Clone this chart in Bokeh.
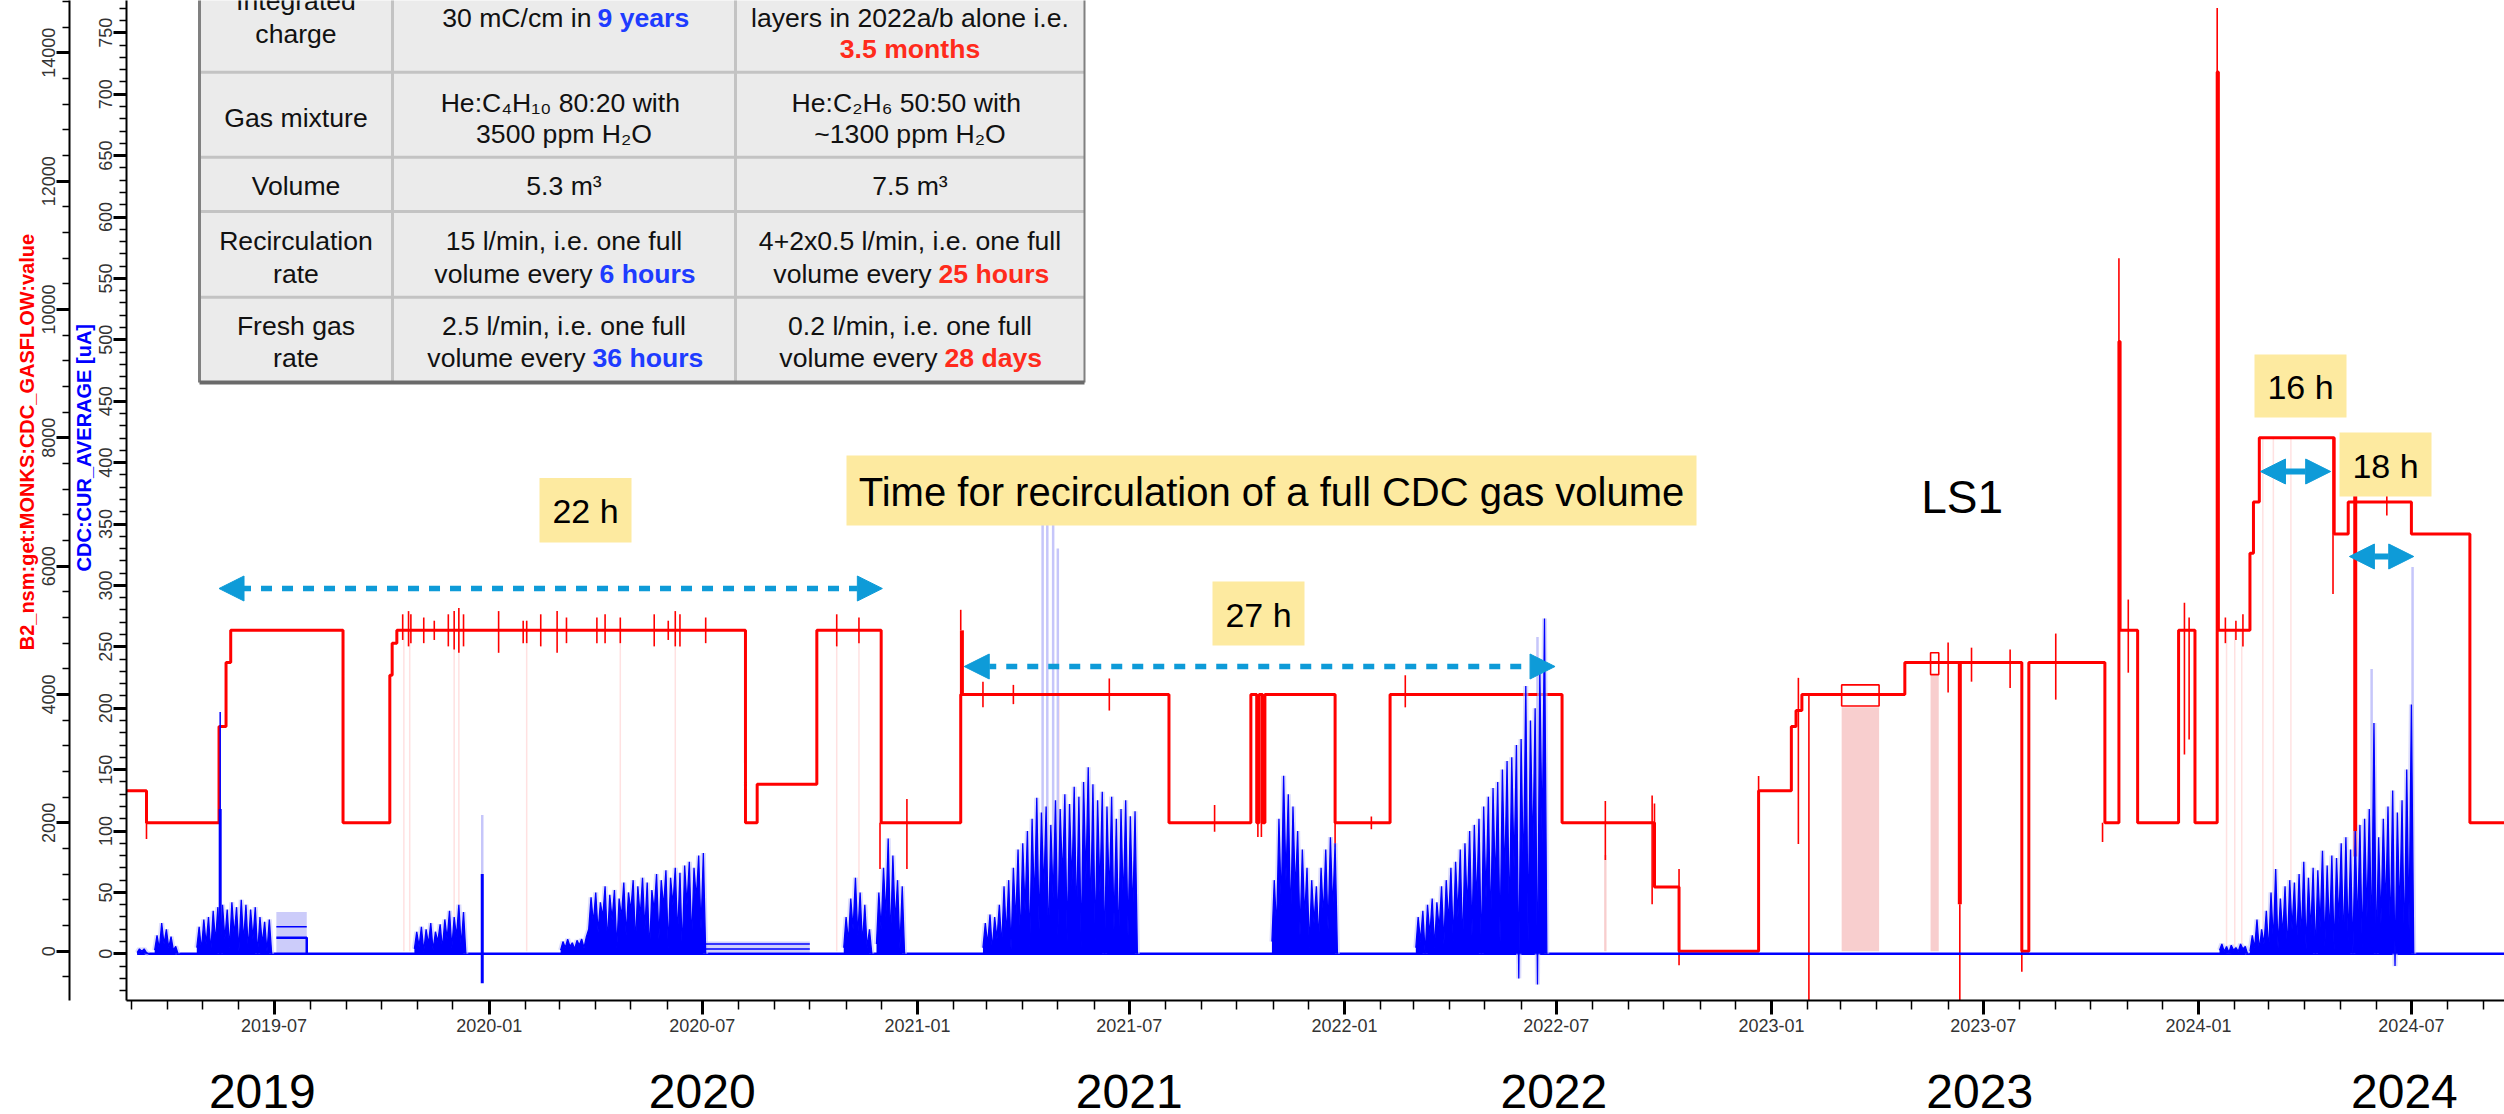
from datetime import datetime, timedelta
from bokeh.plotting import figure
from bokeh.layouts import column
from bokeh.models import (Range1d, LinearAxis, FixedTicker, SingleIntervalTicker,
                          DatetimeTickFormatter, Arrow, NormalHead)
from bokeh.core.properties import value
from bokeh.embed import file_html
from bokeh.resources import INLINE

EPOCH = datetime(1970, 1, 1)


def D(s):
    return datetime.strptime(s, "%Y-%m-%d")


def ms(s):
    return (D(s) - EPOCH).total_seconds() * 1000.0


# ---------------------------------------------------------------- data
# Gas flow (red, outer axis), step changes
red_dates = ["2019-02-24", "2019-03-14", "2019-05-15", "2019-05-21", "2019-05-25", "2019-08-29",
             "2019-10-08", "2019-10-10", "2019-10-14", "2020-08-07", "2020-08-17", "2020-10-07",
             "2020-12-01", "2021-02-07", "2021-08-04", "2021-10-13", "2021-10-18", "2021-10-20",
             "2021-10-23", "2021-10-25", "2021-12-24", "2022-02-09", "2022-07-06", "2022-09-23",
             "2022-10-14", "2022-12-21", "2023-01-18", "2023-01-22", "2023-01-27", "2023-04-25",
             "2023-08-03", "2023-08-09", "2023-10-13", "2023-10-25", "2023-10-26", "2023-11-10",
             "2023-12-15", "2023-12-29", "2024-01-17", "2024-01-18", "2024-02-14", "2024-02-17",
             "2024-02-22", "2024-04-26", "2024-05-08", "2024-07-01", "2024-08-20", "2024-09-19"]
red_vals = [2500, 2000, 3500, 4500, 5000, 2000, 4300, 4800, 5000, 2000, 2600, 5000,
            2000, 4000, 2000, 4000, 2000, 4000, 2000, 4000, 2000, 4000, 2000, 1000,
            0, 2500, 3500, 3750, 4000, 4500, 0, 4500, 2000, 9500, 5000, 2000,
            5000, 2000, 13700, 5000, 6200, 7000, 8000, 6500, 7000, 6500, 2000, 2000]

# thin red glitches (date, low, high)
red_spike_dates = ["2019-03-14", "2019-10-19", "2019-10-24", "2019-10-26", "2019-11-06", "2019-11-15",
                   "2019-11-27", "2019-12-02", "2019-12-06", "2019-12-10", "2020-01-09", "2020-01-30",
                   "2020-02-02", "2020-02-14", "2020-02-28", "2020-03-07", "2020-04-02", "2020-04-09",
                   "2020-04-22", "2020-05-21", "2020-06-02", "2020-06-08", "2020-06-12", "2020-07-04",
                   "2020-10-24", "2020-11-12", "2020-11-30", "2020-12-23", "2021-02-07", "2021-02-26",
                   "2021-03-24", "2021-06-14", "2021-09-12", "2021-10-19", "2021-10-22", "2021-12-24",
                   "2022-01-24", "2022-02-22", "2022-08-12", "2022-09-21", "2022-09-23", "2022-10-14",
                   "2022-12-21", "2023-01-24", "2023-02-02", "2023-06-01", "2023-06-11", "2023-06-21",
                   "2023-07-24", "2023-08-03", "2023-09-01", "2023-10-11", "2023-10-25", "2023-11-02",
                   "2023-12-20", "2023-12-24", "2024-01-17", "2024-01-24", "2024-02-02", "2024-02-08",
                   "2024-04-25", "2024-06-10"]
red_spike_lo = [1750, 4850, 4750, 4800, 4800, 4850, 4750, 4700, 4650, 4750, 4650, 4800,
                4800, 4750, 4650, 4800, 4800, 4800, 4800, 4750, 4850, 4750, 4750, 4800,
                4750, 4800, 1280, 1280, 5000, 3800, 3850, 3750, 1860, 1780, 1780, 1620,
                1900, 3800, 1420, 730, 1150, -220, 2500, 1670, -768, 4030, -768, 4200,
                4100, -320, 3920, 1700, 9500, 4340, 3065, 3300, 13700, 4800, 4850, 4750,
                5565, 6790]
red_spike_hi = [2000, 5250, 5300, 5250, 5200, 5150, 5250, 5300, 5350, 5250, 5300, 5150,
                5150, 5250, 5300, 5200, 5200, 5250, 5200, 5250, 5150, 5300, 5250, 5200,
                5250, 5200, 2000, 2370, 5320, 4200, 4150, 4250, 2280, 4000, 4000, 2000,
                2100, 4300, 2340, 2425, 2300, 1280, 2730, 4260, 4000, 4810, 730, 4730,
                4700, 4500, 4950, 2000, 10800, 5480, 5430, 5200, 14700, 5200, 5150, 5250,
                8000, 7150]
# thick red excursions
red_bar_dates = ["2021-02-08", "2023-06-11", "2024-05-14"]
red_bar_lo = [4000, 730, 1476]
red_bar_hi = [5000, 4500, 7350]
# very faint red drop lines (sampling artefacts)
red_faint_dates = ["2019-10-20", "2019-10-25", "2019-12-02", "2019-12-06", "2020-02-02", "2020-04-22",
                   "2020-06-08", "2020-10-24", "2020-11-12", "2021-05-02", "2024-01-25", "2024-02-01",
                   "2024-02-07", "2024-02-25", "2024-03-05", "2024-03-20"]
red_faint_hi = [5000, 5000, 5000, 5000, 5000, 5000, 5000, 5000, 5000, 4000, 5000, 5000,
                5000, 8000, 8000, 8000]

# light red shaded intervals and outlined boxes (2023)
pink_start = ["2023-03-02", "2023-05-17", "2022-08-11"]
pink_end = ["2023-04-03", "2023-05-24", "2022-08-13"]
pink_top = [3800, 4300, 1500]
box_start = ["2023-03-02", "2023-05-17"]
box_end = ["2023-04-03", "2023-05-24"]
box_lo = [3820, 4310]
box_hi = [4150, 4650]

# CDC current (blue, inner axis): samples every 2 days in beam periods
SAMPLE_DAYS = 2
blue_p1_start, blue_p1 = "2019-03-06", [1, 4, 2, 4, 1, 0]
blue_p2_start, blue_p2 = "2019-03-21", [3, 15, 4, 25, 8, 20, 5, 14, 3, 6, 0]
blue_p3_start, blue_p3 = "2019-04-26", [5, 22, 3, 28, 8, 30, 2, 35, 10, 38, 0, 40, 12, 36, 5, 42, 15,
                                        38, 2, 44, 10, 40, 4, 36, 12, 38, 0, 30, 8, 26, 2, 28, 0]
blue_p4_start, blue_p4 = "2019-10-29", [4, 18, 6, 22, 2, 20, 8, 25, 3, 18, 10, 24, 4, 28, 12, 35, 5,
                                        30, 14, 40, 6, 34, 0]
blue_p5_start, blue_p5 = "2020-03-02", [3, 10, 5, 12, 6, 9, 4, 11, 7, 12, 5, 14,
                                        20, 46, 25, 50, 18, 42, 30, 55, 10, 48, 28, 52, 5, 45, 30,
                                        58, 15, 50, 35, 60, 8, 55, 30, 62, 20, 58, 2, 52, 35, 65,
                                        12, 60, 38, 68, 5, 62, 40, 70, 15, 66, 2, 72, 40, 75, 10,
                                        70, 45, 80, 20, 82, 0]
blue_p6_start, blue_p6 = "2020-10-30", [5, 30, 10, 45, 20, 62, 15, 50, 8, 40, 5, 20, 0]
blue_p7_start, blue_p7 = "2020-11-27", [8, 50, 20, 70, 30, 94, 10, 80, 25, 60, 5, 55, 0]
blue_p8_start, blue_p8 = "2021-02-26", [5, 25, 8, 32, 3, 30, 12, 40, 6, 55, 15, 60, 4, 70, 25, 85,
                                        10, 90, 35, 100, 5, 110, 40, 127, 20, 115, 50, 120, 8, 105,
                                        45, 125, 15, 118, 60, 130, 10, 122, 55, 136, 25, 128, 5,
                                        140, 60, 152, 30, 138, 10, 125, 50, 132, 0, 120, 45, 128,
                                        20, 110, 5, 118, 40, 125, 15, 112, 30, 116, 0]
blue_p9_start, blue_p9 = "2021-10-31", [10, 60, 20, 110, 40, 145, 60, 130, 25, 120, 50, 100, 15, 85,
                                        30, 70, 5, 60, 25, 55, 10, 70, 30, 85, 20, 95, 35, 90, 0]
blue_p10_start, blue_p10 = "2022-03-03", [5, 30, 10, 35, 0, 40, 15, 45, 5, 42, 20, 55, 8, 60, 25,
                                          70, 10, 75, 30, 85, 5, 90, 35, 100, 15, 105, 40, 110, 0,
                                          120, 45, 128, 20, 135, 55, 140, 10, 150, 60, 157, 25,
                                          160, 70, 170, -20, 175, 60, 218, 10, 190, 80, 200, -25,
                                          230, 90, 273, 0]
blue_p11a_start, blue_p11a = "2024-01-19", [3, 8, 2, 6, 1, 7, 3, 5, 2, 8, 4, 6, 0]
blue_p11_start, blue_p11 = "2024-02-14", [2, 15, 5, 28, 3, 20, 8, 35, 2, 50, 10, 69, 5, 45, 15, 55,
                                          3, 60, 20, 58, 8, 65, 12, 75, 4, 62, 18, 70, 0, 68, 22,
                                          84, 6, 72, 15, 80, 3, 78, 25, 90, 8, 95, 10, 85, 0, 100,
                                          20, 105, 5, 110, 30, 118, 10, 188, 0, 95, 25, 110, 35,
                                          120, 15, 133, -10, 115, 30, 125, 5, 150, 20, 203, 0]
blue_periods = [(blue_p1_start, blue_p1), (blue_p2_start, blue_p2), (blue_p3_start, blue_p3),
                (blue_p4_start, blue_p4), (blue_p5_start, blue_p5), (blue_p6_start, blue_p6),
                (blue_p7_start, blue_p7), (blue_p8_start, blue_p8), (blue_p9_start, blue_p9),
                (blue_p10_start, blue_p10), (blue_p11a_start, blue_p11a), (blue_p11_start, blue_p11)]
blue_base_range = ["2019-03-06", "2024-09-19"]
blue_spike_dates = ["2019-05-16", "2019-12-26"]
blue_spike_lo = [0, -24]
blue_spike_hi = [118, 65]
blue_thin_dates = ["2019-05-16"]
blue_thin_hi = [197]
lav_spike_dates = ["2019-12-26", "2021-04-18", "2021-04-22", "2021-04-27", "2021-05-01",
                   "2022-06-15", "2024-05-28", "2024-07-02"]
lav_spike_hi = [113, 385, 380, 360, 330, 258, 232, 315]
blue_flat_range = ["2020-07-04", "2020-10-01"]
blue_flat_levels = [8, 4]
lav_box_range = ["2019-07-03", "2019-07-29"]
lav_box_top = 34
lav_box_levels = [22, 13]

# axis ticks / labels
major_tick_dates = ["2019-07-01", "2020-01-01", "2020-07-01", "2021-01-01", "2021-07-01",
                    "2022-01-01", "2022-07-01", "2023-01-01", "2023-07-01", "2024-01-01",
                    "2024-07-01"]
year_labels = ["2019", "2020", "2021", "2022", "2023", "2024"]
year_label_dates = ["2019-06-21", "2020-07-01", "2021-07-01", "2022-06-29", "2023-06-28", "2024-06-25"]

# ---------------------------------------------------------------- figure
FONT = "Liberation Sans"
X_START = datetime(2019, 2, 24, 22, 0)
X_END = datetime(2024, 9, 18, 14, 0)
FR_L, FR_R, FR_T, FR_B = 126, 2504, 0, 1000
MAIN_H = 1040
TOTAL_H = 1114

p = figure(width=2504, height=MAIN_H, output_backend="svg", toolbar_location=None, tools="",
           x_axis_type="datetime", x_range=Range1d(X_START, X_END),
           y_range=Range1d(-38.0, 776.3),
           min_border_left=FR_L, min_border_right=0, min_border_top=0,
           min_border_bottom=MAIN_H - FR_B)
p.outline_line_color = None
p.grid.visible = False
p.background_fill_color = "white"
p.border_fill_color = "white"
p.extra_y_ranges = {"outer": Range1d(-768.3, 14815.0), "py": Range1d(FR_B, FR_T)}
p.extra_x_ranges = {"px": Range1d(FR_L, FR_R)}

NB = "\u00a0"
# inner (blue) axis
ya = p.yaxis[0]
ya.ticker = SingleIntervalTicker(interval=50, num_minor_ticks=5)
ya.axis_label = NB * 19 + "CDC:CUR_AVERAGE [uA]"
ya.axis_label_text_color = "#0000ff"
ya.axis_label_text_font_style = "bold"
ya.axis_label_text_font = FONT
ya.axis_label_text_font_size = "20px"
ya.axis_label_standoff = 2
ya.major_label_orientation = "vertical"
ya.major_label_standoff = 1

# outer (red) axis
yo = LinearAxis(y_range_name="outer", ticker=SingleIntervalTicker(interval=2000, num_minor_ticks=5))
yo.axis_label = NB * 21 + "B2_nsm:get:MONKS:CDC_GASFLOW:value"
yo.axis_label_text_color = "#ff0000"
yo.axis_label_text_font_style = "bold"
yo.axis_label_text_font = FONT
yo.axis_label_text_font_size = "20px"
yo.axis_label_standoff = 2
yo.major_label_orientation = "vertical"
yo.major_label_standoff = 1
p.add_layout(yo, "left")

for ax in (ya, yo):
    ax.major_tick_out = 13
    ax.major_tick_in = 0
    ax.major_tick_line_width = 3
    ax.minor_tick_out = 7
    ax.minor_tick_in = 0
    ax.minor_tick_line_width = 1.5
    ax.axis_line_width = 2
    ax.major_label_text_font = FONT
    ax.major_label_text_font_size = "18px"
    ax.major_label_text_color = "#333333"

# bottom date axis
minor_ms = []
for yr in range(2019, 2025):
    for mo in range(1, 13):
        d = datetime(yr, mo, 1)
        if X_START <= d <= X_END:
            minor_ms.append((d - EPOCH).total_seconds() * 1000.0)
xa = p.xaxis[0]
xa.ticker = FixedTicker(ticks=[ms(s) for s in major_tick_dates], minor_ticks=minor_ms)
xa.formatter = DatetimeTickFormatter(days="%Y-%m", months="%Y-%m", years="%Y-%m")
xa.major_tick_out = 14
xa.major_tick_in = 0
xa.major_tick_line_width = 3
xa.minor_tick_out = 9
xa.minor_tick_in = 0
xa.minor_tick_line_width = 1.5
xa.axis_line_width = 2
xa.major_label_standoff = 4
xa.major_label_text_font = FONT
xa.major_label_text_font_size = "18px"
xa.major_label_text_color = "#333333"

# ---------------------------------------------------------------- data glyphs
RED = "#ff0000"
BLUE = "#0000ff"
LAV = "#c6c6fa"

# shaded pink intervals
p.quad(left=[D(s) for s in pink_start], right=[D(s) for s in pink_end],
       bottom=[0] * len(pink_start), top=pink_top, y_range_name="outer",
       fill_color="#f7c6c6", fill_alpha=0.85, line_color=None)
p.segment(x0=[D(s) for s in red_faint_dates], x1=[D(s) for s in red_faint_dates],
          y0=[0] * len(red_faint_dates), y1=red_faint_hi, y_range_name="outer",
          line_color="#ff9a9a", line_alpha=0.3, line_width=1.5)

# lavender haze
p.segment(x0=[D(s) for s in lav_spike_dates], x1=[D(s) for s in lav_spike_dates],
          y0=[0] * len(lav_spike_dates), y1=lav_spike_hi, line_color=LAV, line_width=2.5)
p.quad(left=[D(lav_box_range[0])], right=[D(lav_box_range[1])], bottom=[0], top=[lav_box_top],
       fill_color=LAV, fill_alpha=0.9, line_color=None)
p.varea(x=[D(s) for s in blue_flat_range], y1=[1, 1], y2=[10, 10], fill_color=LAV, fill_alpha=0.8)

# red gas flow
p.step(x=[D(s) for s in red_dates], y=red_vals, mode="after", y_range_name="outer",
       line_color=RED, line_width=3)
p.segment(x0=[D(s) for s in red_spike_dates], x1=[D(s) for s in red_spike_dates],
          y0=red_spike_lo, y1=red_spike_hi, y_range_name="outer", line_color=RED, line_width=1.6)
p.segment(x0=[D(s) for s in red_bar_dates], x1=[D(s) for s in red_bar_dates],
          y0=red_bar_lo, y1=red_bar_hi, y_range_name="outer", line_color=RED, line_width=4)
p.quad(left=[D(s) for s in box_start], right=[D(s) for s in box_end], bottom=box_lo, top=box_hi,
       y_range_name="outer", fill_color=None, line_color=RED, line_width=1.6)

# blue current
p.line(x=[D(s) for s in blue_base_range], y=[0, 0], line_color=BLUE, line_width=2.5)
for start, vals in blue_periods:
    xs = [D(start) + timedelta(days=SAMPLE_DAYS * i) for i in range(len(vals))]
    p.line(x=xs, y=vals, line_color=LAV, line_width=5, line_alpha=0.6)
    p.varea(x=xs, y1=[0] * len(xs), y2=vals, fill_color=BLUE)
    p.line(x=xs, y=vals, line_color=BLUE, line_width=1.3)
for lvl in blue_flat_levels:
    p.line(x=[D(s) for s in blue_flat_range], y=[lvl, lvl], line_color=BLUE, line_width=1.5)
p.line(x=[D(lav_box_range[0]), D(lav_box_range[1])], y=[lav_box_levels[0]] * 2,
       line_color=BLUE, line_width=1.5)
p.line(x=[D(lav_box_range[0]), D(lav_box_range[1]), D(lav_box_range[1])],
       y=[lav_box_levels[1], lav_box_levels[1], 0], line_color=BLUE, line_width=2.5)
p.segment(x0=[D(s) for s in blue_spike_dates], x1=[D(s) for s in blue_spike_dates],
          y0=blue_spike_lo, y1=blue_spike_hi, line_color=BLUE, line_width=3)
p.segment(x0=[D(s) for s in blue_thin_dates], x1=[D(s) for s in blue_thin_dates],
          y0=[0] * len(blue_thin_dates), y1=blue_thin_hi, line_color=BLUE, line_width=1.5)

# ---------------------------------------------------------------- annotations
YEL = "#fdeaa0"
ARW = "#0e9bd8"
ann_left = [539, 846, 1212, 2254, 2339]
ann_right = [631, 1696, 1304, 2346, 2431]
ann_top = [477.5, 455, 581, 354, 432]
ann_bottom = [542, 525, 645, 417, 496]
ann_text = ["22 h", "Time for recirculation of a full CDC gas volume", "27 h", "16 h", "18 h"]
ann_size = ["34px", "40px", "34px", "34px", "34px"]
p.quad(left=ann_left, right=ann_right, top=ann_top, bottom=ann_bottom,
       x_range_name="px", y_range_name="py", fill_color=YEL, line_color=None)
for l, r, t, b, txt, fs in zip(ann_left, ann_right, ann_top, ann_bottom, ann_text, ann_size):
    p.text(x=[(l + r) / 2], y=[(t + b) / 2 + 1], text=[txt], x_range_name="px", y_range_name="py",
           text_align="center", text_baseline="middle", text_font=value(FONT),
           text_font_size=fs, text_color="black")
p.text(x=[D("2023-06-13")], y=[496], text=["LS1"], y_range_name="py", text_align="center",
       text_baseline="middle", text_font=value(FONT), text_font_size="46px", text_color="black")

arrow_specs = [("2019-05-15", "2020-12-02", 588, "11 10", 5.5),
               ("2021-02-10", "2022-06-30", 666, "11 10", 5.5),
               ("2024-02-23", "2024-04-23", 471, "solid", 6),
               ("2024-05-09", "2024-07-03", 556, "solid", 6)]
for s, e, yy, dash, lw in arrow_specs:
    p.add_layout(Arrow(x_start=ms(s), x_end=ms(e), y_start=yy, y_end=yy, y_range_name="py",
                       line_color=ARW, line_width=lw, line_dash=dash,
                       start=NormalHead(size=25, fill_color=ARW, line_color=ARW, line_width=1),
                       end=NormalHead(size=25, fill_color=ARW, line_color=ARW, line_width=1)))

# ---------------------------------------------------------------- table
T_L, T_R, T_B = 199, 1084, 382
col_x = [392, 735]
row_y = [71.7, 156.7, 211, 296.7]
p.quad(left=[T_L], right=[T_R], top=[-60], bottom=[T_B], x_range_name="px", y_range_name="py",
       fill_color="#ebebeb", line_color=None)
p.segment(x0=[T_L] * 4, x1=[T_R] * 4, y0=row_y, y1=row_y, x_range_name="px", y_range_name="py",
          line_color="#c3c3c3", line_width=3)
p.segment(x0=col_x, x1=col_x, y0=[-60, -60], y1=[T_B, T_B], x_range_name="px", y_range_name="py",
          line_color="#c3c3c3", line_width=3)
p.segment(x0=[T_L, T_R], x1=[T_L, T_R], y0=[-60, -60], y1=[T_B, T_B], x_range_name="px",
          y_range_name="py", line_color="#808080", line_width=[3, 2])
p.segment(x0=[T_L], x1=[T_R], y0=[T_B], y1=[T_B], x_range_name="px", y_range_name="py",
          line_color="#6a6a6a", line_width=4)

C1, C2, C3 = 295.5, 563.5, 909.5
TFS = "26.6px"
plain_x = [C1, C1, C1, C1, C1, C1, C1, C1,
           C2, C2, C2, C2, C2,
           C3, C3, C3, C3, C3, C3]
plain_y = [0, 33, 117, 185, 240, 273, 325, 357,
           102, 133, 185, 240, 325,
           17, 102, 133, 185, 240, 325]
plain_t = ["Integrated", "charge", "Gas mixture", "Volume", "Recirculation", "rate", "Fresh gas", "rate",
           "He:C\u2084H\u2081\u2080  80:20 with", "3500 ppm H\u2082O", "5.3 m\u00b3",
           "15 l/min, i.e. one full", "2.5 l/min, i.e. one full",
           "layers in 2022a/b alone i.e.", "He:C\u2082H\u2086  50:50 with", "~1300 ppm H\u2082O",
           "7.5 m\u00b3", "4+2x0.5 l/min, i.e. one full", "0.2 l/min, i.e. one full"]
p.text(x=plain_x, y=plain_y, text=plain_t, x_range_name="px", y_range_name="py",
       text_align="center", text_baseline="middle", text_font=value(FONT),
       text_font_size=TFS, text_color="#111111")
split_x_black = [591, 592, 585, 931, 937]
split_x_hi = [597, 599, 592, 938, 944]
split_y = [17, 273, 357, 273, 357]
split_black = ["30 mC/cm in", "volume every", "volume every", "volume every", "volume every"]
split_hi = ["9 years", "6 hours", "36 hours", "25 hours", "28 days"]
split_col = ["#1e3cff", "#1e3cff", "#1e3cff", "#ff2b1c", "#ff2b1c"]
p.text(x=split_x_black, y=split_y, text=split_black, x_range_name="px", y_range_name="py",
       text_align="right", text_baseline="middle", text_font=value(FONT),
       text_font_size=TFS, text_color="#111111")
p.text(x=split_x_hi, y=split_y, text=split_hi, x_range_name="px", y_range_name="py",
       text_align="left", text_baseline="middle", text_font=value(FONT),
       text_font_size=TFS, text_color=split_col, text_font_style="bold")
p.text(x=[C3], y=[48], text=["3.5 months"], x_range_name="px", y_range_name="py",
       text_align="center", text_baseline="middle", text_font=value(FONT),
       text_font_size=TFS, text_color="#ff2b1c", text_font_style="bold")

# ---------------------------------------------------------------- year strip below the axis
py_strip = figure(width=2504, height=TOTAL_H - MAIN_H, output_backend="svg", toolbar_location=None,
                  tools="", x_axis_type=None, y_axis_type=None, x_range=p.x_range,
                  y_range=Range1d(TOTAL_H, MAIN_H),
                  min_border_left=FR_L, min_border_right=0, min_border_top=0, min_border_bottom=0)
py_strip.outline_line_color = None
py_strip.grid.visible = False
py_strip.background_fill_color = "white"
py_strip.border_fill_color = "white"
py_strip.text(x=[D(s) for s in year_label_dates], y=[1091] * len(year_labels), text=year_labels,
              text_align="center", text_baseline="alphabetic", text_font=value(FONT),
              text_font_size="48px", text_color="black")

layout = column(p, py_strip, spacing=0)
open("out.html", "w").write(file_html(layout, INLINE))
